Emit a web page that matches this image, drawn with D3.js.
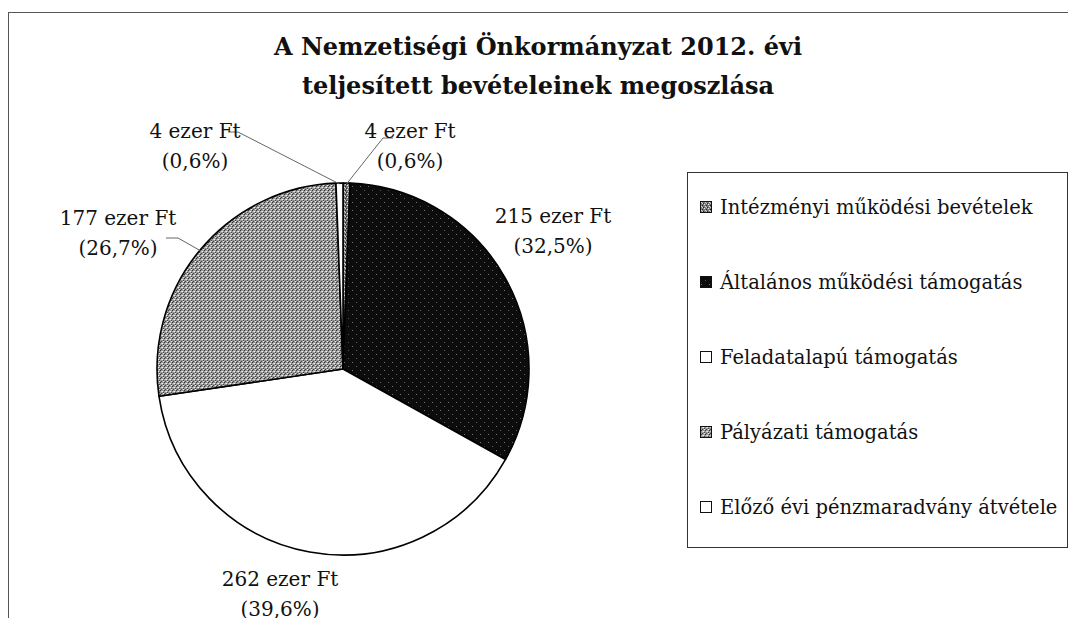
<!DOCTYPE html>
<html>
<head>
<meta charset="utf-8">
<script src="https://cdn.jsdelivr.net/npm/d3@7"></script>
<style>
  html, body { margin: 0; padding: 0; background: #fff; }
  svg { display: block; }
  text { font-family: "DejaVu Serif", serif; fill: #111; }
</style>
</head>
<body>
<svg id="chart" width="1068" height="618"></svg>
<script>
/* ── Data ──────────────────────────────────────────────────── */
const categories = [
  'Intézményi működési bevételek',
  'Általános működési támogatás',
  'Feladatalapú támogatás',
  'Pályázati támogatás',
  'Előző évi pénzmaradvány átvétele',
];
const values = [4, 215, 262, 177, 4];          // ezer Ft
const percents = ['0,6%', '32,5%', '39,6%', '26,7%', '0,6%'];
const titleLines = [
  'A Nemzetiségi Önkormányzat 2012. évi',
  'teljesített bevételeinek megoszlása',
];

/* ── Layout ────────────────────────────────────────────────── */
const W = 1068, H = 618;
const cx = 343, cy = 369, R = 186;
// label anchor offsets from pie centre (x, y of first line), and leader-line knee
const labelPos = [
  { dx:  67, dy: -231, knee: [ 40, -231] },
  { dx: 210, dy: -146, knee: null },
  { dx: -63, dy:  217, knee: null },
  { dx: -225, dy: -144, knee: [-165, -131] },
  { dx: -148, dy: -231, knee: [-105, -237] },
];

const svg = d3.select('#chart');

/* ── Patterns ──────────────────────────────────────────────── */
const defs = svg.append('defs');

function ditherPattern(id, bg, dots, size) {
  const p = defs.append('pattern')
    .attr('id', id)
    .attr('patternUnits', 'userSpaceOnUse')
    .attr('width', size).attr('height', size);
  p.append('rect').attr('width', size).attr('height', size).attr('fill', bg);
  dots.forEach(([x, y, c]) => {
    p.append('rect').attr('x', x).attr('y', y).attr('width', 1).attr('height', 1).attr('fill', c);
  });
  return `url(#${id})`;
}

const fills = [
  ditherPattern('pat-inst', '#7a7a7a',
    [[0,0,'#eee'],[2,1,'#222'],[1,2,'#ddd'],[3,3,'#222'],[2,3,'#ccc']], 4),
  ditherPattern('pat-alt', '#0c0c0c',
    [[1,1,'#777'],[5,5,'#555']], 8),
  '#ffffff',
  ditherPattern('pat-paly', '#999',
    [[0,0,'#eee'],[2,0,'#444'],[1,1,'#333'],[3,2,'#eee'],[0,3,'#444'],[2,2,'#ccc']], 4),
  '#ffffff',
];

/* ── Frame ─────────────────────────────────────────────────── */
svg.append('rect')
  .attr('x', 8.5).attr('y', 12.5)
  .attr('width', W).attr('height', H)
  .attr('fill', 'none')
  .attr('stroke', '#555')
  .attr('stroke-width', 1);

/* ── Title ─────────────────────────────────────────────────── */
svg.append('g').selectAll('text')
  .data(titleLines)
  .join('text')
  .attr('x', 538)
  .attr('y', (d, i) => 55 + i * 39)
  .attr('text-anchor', 'middle')
  .attr('font-size', 24)
  .attr('font-weight', 'bold')
  .text(d => d);

/* ── Pie ───────────────────────────────────────────────────── */
const pie = d3.pie().sort(null).value(d => d);
const arcs = pie(values);
const arc = d3.arc().innerRadius(0).outerRadius(R);

const g = svg.append('g').attr('transform', `translate(${cx},${cy})`);

g.selectAll('path.slice')
  .data(arcs)
  .join('path')
  .attr('class', 'slice')
  .attr('d', arc)
  .attr('fill', (d, i) => fills[i])
  .attr('stroke', '#000')
  .attr('stroke-width', 1.6)
  .attr('stroke-linejoin', 'round');

/* ── Leader lines ──────────────────────────────────────────── */
g.selectAll('polyline.leader')
  .data(arcs.filter((d, i) => labelPos[i].knee))
  .join('polyline')
  .attr('class', 'leader')
  .attr('fill', 'none')
  .attr('stroke', '#666')
  .attr('stroke-width', 1)
  .attr('points', d => {
    const lp = labelPos[d.index];
    const a = (d.startAngle + d.endAngle) / 2;
    const ex = Math.sin(a) * (R - 1), ey = -Math.cos(a) * (R - 1);
    const [kx, ky] = lp.knee;
    const hx = d.index === 0 ? kx + 10 : (d.index === 4 ? kx - 10 : kx - 12);
    return `${hx},${ky} ${kx},${ky} ${ex},${ey}`;
  });

/* ── Data labels ───────────────────────────────────────────── */
const lbl = g.selectAll('text.lbl')
  .data(arcs)
  .join('text')
  .attr('class', 'lbl')
  .attr('text-anchor', 'middle')
  .attr('font-size', 20);

lbl.append('tspan')
  .attr('x', d => labelPos[d.index].dx)
  .attr('y', d => labelPos[d.index].dy)
  .text(d => `${d.data} ezer Ft`);

lbl.append('tspan')
  .attr('x', d => labelPos[d.index].dx)
  .attr('dy', 30)
  .text(d => `(${percents[d.index]})`);

/* ── Legend ────────────────────────────────────────────────── */
const legend = svg.append('g').attr('transform', 'translate(687,172)');
legend.append('rect')
  .attr('x', 0.5).attr('y', 0.5)
  .attr('width', 380).attr('height', 375)
  .attr('fill', '#fff')
  .attr('stroke', '#333')
  .attr('stroke-width', 1);

const items = legend.selectAll('g.item')
  .data(categories)
  .join('g')
  .attr('class', 'item')
  .attr('transform', (d, i) => `translate(13,${36 + i * 75})`);

items.append('rect')
  .attr('x', 0.5).attr('y', -6.5)
  .attr('width', 11).attr('height', 11)
  .attr('fill', (d, i) => fills[i])
  .attr('stroke', '#111')
  .attr('stroke-width', 1);

items.append('text')
  .attr('x', 20)
  .attr('y', 6)
  .attr('font-size', 19.5)
  .text(d => d);
</script>
</body>
</html>
